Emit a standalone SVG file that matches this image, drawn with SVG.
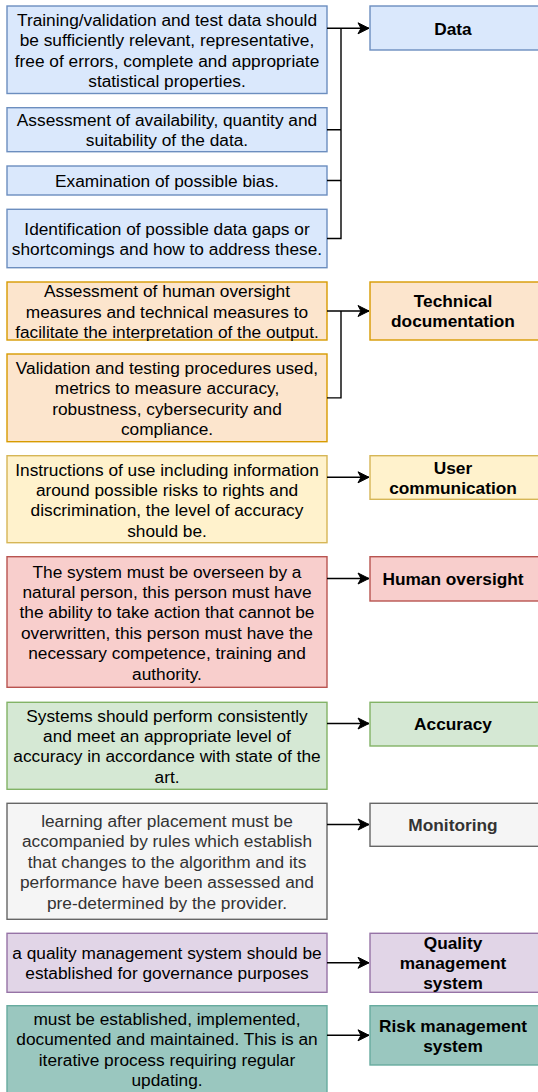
<svg xmlns="http://www.w3.org/2000/svg" width="538" height="1092" viewBox="0 0 538 1092">
<style>
text{font-family:"Liberation Sans",Arial,sans-serif;font-size:17.3px;fill:#000;text-anchor:middle}
.lbl{font-weight:bold}
rect{stroke-width:1.4}
.blue{fill:#dae8fc;stroke:#6c8ebf}
.orange{fill:#fce5cd;stroke:#d79b00}
.yellow{fill:#fff2cc;stroke:#d6b656}
.red{fill:#f8cecc;stroke:#b85450}
.green{fill:#d5e8d4;stroke:#82b366}
.gray{fill:#f5f5f5;stroke:#666666}
text.gt{fill:#333333}
.purple{fill:#e1d5e7;stroke:#9673a6}
.teal{fill:#9ac7bf;stroke:#67ab9f}
.edge{fill:none;stroke:#000;stroke-width:1.4}
</style>
<defs>
<marker id="arr" markerUnits="userSpaceOnUse" markerWidth="14" markerHeight="14" refX="12" refY="7" orient="auto">
<path d="M1,1.5 L12,7 L1,12.5 L4,7 Z" fill="#000" stroke="#000" stroke-width="1"/>
</marker>
</defs>

<g id="data-1"><rect class="blue" x="7" y="6" width="320" height="87.5"/>
<text x="167" y="26">Training/validation and test data should</text>
<text x="167" y="46.4">be sufficiently relevant, representative,</text>
<text x="167" y="66.8">free of errors, complete and appropriate</text>
<text x="167" y="87.2">statistical properties.</text></g>

<g id="data-2"><rect class="blue" x="7" y="107.7" width="320" height="44"/>
<text x="167" y="126">Assessment of availability, quantity and</text>
<text x="167" y="146.4">suitability of the data.</text></g>

<g id="data-3"><rect class="blue" x="7" y="166" width="320" height="29"/>
<text x="167" y="186.5">Examination of possible bias.</text></g>

<g id="data-4"><rect class="blue" x="7" y="209.3" width="320" height="58.4"/>
<text x="167" y="234.5">Identification of possible data gaps or</text>
<text x="167" y="255">shortcomings and how to address these.</text></g>

<g id="data"><rect class="blue" x="370" y="6" width="172" height="44"/>
<text class="lbl" x="453" y="34.5">Data</text></g>

<g id="tech-1"><rect class="orange" x="7" y="282" width="320" height="58"/>
<text x="167" y="297">Assessment of human oversight</text>
<text x="167" y="317.5">measures and technical measures to</text>
<text x="167" y="337.7">facilitate the interpretation of the output.</text></g>

<g id="tech-2"><rect class="orange" x="7" y="354" width="320" height="87.7"/>
<text x="167" y="374">Validation and testing procedures used,</text>
<text x="167" y="394.4">metrics to measure accuracy,</text>
<text x="167" y="414.8">robustness, cybersecurity and</text>
<text x="167" y="435.2">compliance.</text></g>

<g id="tech"><rect class="orange" x="370" y="282" width="172" height="58"/>
<text class="lbl" x="453" y="307">Technical</text>
<text class="lbl" x="453" y="327.4">documentation</text></g>

<g id="user-1"><rect class="yellow" x="7" y="455.7" width="320" height="87"/>
<text x="167" y="475.5">Instructions of use including information</text>
<text x="167" y="495.9">around possible risks to rights and</text>
<text x="167" y="516.3">discrimination, the level of accuracy</text>
<text x="167" y="536.7">should be.</text></g>

<g id="user"><rect class="yellow" x="370" y="455.7" width="172" height="43.6"/>
<text class="lbl" x="453" y="473.5">User</text>
<text class="lbl" x="453" y="493.9">communication</text></g>

<g id="human-1"><rect class="red" x="7" y="556.7" width="320" height="130.6"/>
<text x="167" y="577.5">The system must be overseen by a</text>
<text x="167" y="597.9">natural person, this person must have</text>
<text x="167" y="618.3">the ability to take action that cannot be</text>
<text x="167" y="638.7">overwritten, this person must have the</text>
<text x="167" y="659.1">necessary competence, training and</text>
<text x="167" y="679.5">authority.</text></g>

<g id="human"><rect class="red" x="370" y="556.7" width="172" height="44.3"/>
<text class="lbl" x="453" y="585">Human oversight</text></g>

<g id="acc-1"><rect class="green" x="7" y="702.3" width="320" height="87"/>
<text x="167" y="721.5">Systems should perform consistently</text>
<text x="167" y="741.9">and meet an appropriate level of</text>
<text x="167" y="762.3">accuracy in accordance with state of the</text>
<text x="167" y="782.7">art.</text></g>

<g id="acc"><rect class="green" x="370" y="702.3" width="172" height="43.7"/>
<text class="lbl" x="453" y="730">Accuracy</text></g>

<g id="mon-1"><rect class="gray" x="7" y="803.3" width="320" height="116"/>
<text class="gt" x="167" y="827">learning after placement must be</text>
<text class="gt" x="167" y="847.4">accompanied by rules which establish</text>
<text class="gt" x="167" y="867.8">that changes to the algorithm and its</text>
<text class="gt" x="167" y="888.2">performance have been assessed and</text>
<text class="gt" x="167" y="908.6">pre-determined by the provider.</text></g>

<g id="mon"><rect class="gray" x="370" y="803.3" width="172" height="43"/>
<text class="lbl gt" x="453" y="831">Monitoring</text></g>

<g id="qual-1"><rect class="purple" x="7" y="933.3" width="320" height="59"/>
<text x="167" y="959">a quality management system should be</text>
<text x="167" y="979.4">established for governance purposes</text></g>

<g id="qual"><rect class="purple" x="370" y="933.3" width="172" height="59"/>
<text class="lbl" x="453" y="948.5">Quality</text>
<text class="lbl" x="453" y="968.9">management</text>
<text class="lbl" x="453" y="989.3">system</text></g>

<g id="risk-1"><rect class="teal" x="7" y="1005.7" width="320" height="87"/>
<text x="167" y="1025">must be established, implemented,</text>
<text x="167" y="1045.4">documented and maintained. This is an</text>
<text x="167" y="1065.8">iterative process requiring regular</text>
<text x="167" y="1086.2">updating.</text></g>

<g id="risk"><rect class="teal" x="370" y="1005.7" width="172" height="59.3"/>
<text class="lbl" x="453" y="1031.5">Risk management</text>
<text class="lbl" x="453" y="1051.9">system</text></g>

<g id="connectors">
<path class="edge" d="M327,129.7 H341 V28.3 M327,180.5 H341 M327,238.5 H341 V129.7"/>
<path class="edge" d="M327,28.3 H369" marker-end="url(#arr)"/>
<path class="edge" d="M327,397.9 H341 V311"/>
<path class="edge" d="M327,311 H369" marker-end="url(#arr)"/>
<path class="edge" d="M327,477.3 H369" marker-end="url(#arr)"/>
<path class="edge" d="M327,578.5 H369" marker-end="url(#arr)"/>
<path class="edge" d="M327,723.5 H369" marker-end="url(#arr)"/>
<path class="edge" d="M327,824.5 H369" marker-end="url(#arr)"/>
<path class="edge" d="M327,962.8 H369" marker-end="url(#arr)"/>
<path class="edge" d="M327,1035.3 H369" marker-end="url(#arr)"/>
</g>
</svg>
